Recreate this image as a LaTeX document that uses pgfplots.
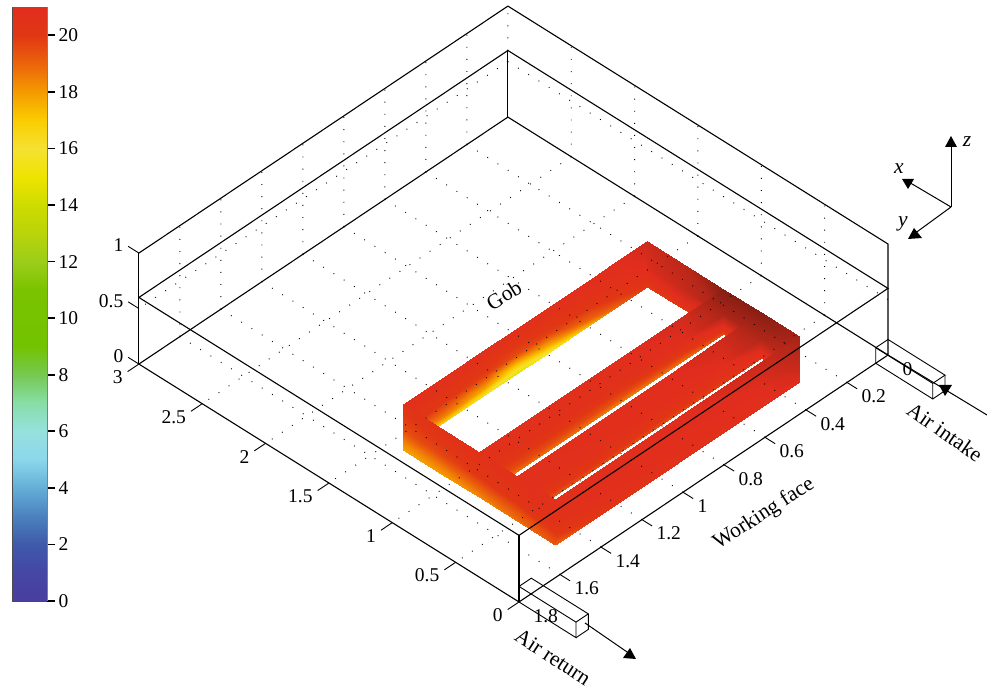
\documentclass[border=0pt]{standalone}
\usepackage{fontspec}
\setmainfont{Liberation Serif}
\usepackage{pgfplots}
\pgfplotsset{compat=1.18}

\pgfplotsset{
  colormap={bar}{
    rgb255=(72,62,160) rgb255=(70,70,165) rgb255=(62,90,170) rgb255=(75,130,190)
    rgb255=(100,175,215) rgb255=(140,215,235) rgb255=(150,225,222) rgb255=(135,222,165)
    rgb255=(118,200,80) rgb255=(115,195,0) rgb255=(118,195,0) rgb255=(122,195,0)
    rgb255=(155,205,25) rgb255=(185,212,10) rgb255=(205,220,0) rgb255=(238,228,0)
    rgb255=(245,225,50) rgb255=(250,205,0) rgb255=(245,155,0) rgb255=(235,100,10)
    rgb255=(225,55,20) rgb255=(225,45,30)
  },
  % same map, two darker steps on top for the shaded far end of the block
  colormap={block}{
    rgb255=(72,62,160) rgb255=(70,70,165) rgb255=(62,90,170) rgb255=(75,130,190)
    rgb255=(100,175,215) rgb255=(140,215,235) rgb255=(150,225,222) rgb255=(135,222,165)
    rgb255=(118,200,80) rgb255=(115,195,0) rgb255=(118,195,0) rgb255=(122,195,0)
    rgb255=(155,205,25) rgb255=(185,212,10) rgb255=(205,220,0) rgb255=(238,228,0)
    rgb255=(245,225,50) rgb255=(250,205,0) rgb255=(245,155,0) rgb255=(235,100,10)
    rgb255=(225,55,20) rgb255=(225,45,30) rgb255=(185,40,25) rgb255=(135,30,20)
  },
  wall/.style={surf,shader=interp,mesh/rows=4,mesh/check=false},
  frame/.style={black,line width=1.1pt,mark=none,forget plot},
}
\newcommand{\lab}{\fontsize{19.5}{22}\selectfont}
\newcommand{\ann}{\fontsize{21.5}{24}\selectfont}

\begin{document}
\begin{tikzpicture}
\useasboundingbox (0,0) rectangle (987pt,690pt);

% colour bar
\begin{axis}[
  at={(12pt,89pt)},anchor=south west,
  width=35pt,height=594pt,scale only axis,
  xmin=0,xmax=1,ymin=0,ymax=21,
  axis y line*=right,axis x line=none,
  xtick=\empty,ytick={0,2,...,20},
  tick align=outside,
  major tick length=8pt,
  tick style={black,line width=1.6pt},
  axis line style={gray,line width=0.6pt},
  yticklabel style={font=\lab,/pgf/number format/assume math mode=true},
  colormap name=bar,point meta min=0,point meta max=21,
  view={0}{90},
]
\addplot3[surf,shader=interp,mesh/rows=8,mesh/check=false,point meta=explicit] coordinates {
  (0,0,0)[0] (1,0,0)[0]
  (0,3,0)[3] (1,3,0)[3]
  (0,6,0)[6] (1,6,0)[6]
  (0,9,0)[9] (1,9,0)[9]
  (0,12,0)[12] (1,12,0)[12]
  (0,15,0)[15] (1,15,0)[15]
  (0,18,0)[18] (1,18,0)[18]
  (0,21,0)[21] (1,21,0)[21]
};
\end{axis}

% gob box
\begin{axis}[
  at={(888pt,335pt)},anchor=origin,
  x={(-205pt,-137.2pt)},y={(-126.7pt,79.3pt)},z={(0pt,111pt)},
  xmin=0,xmax=1.8,ymin=0,ymax=3,zmin=0,zmax=1,
  clip=false,
  axis line style={draw=none},
  xtick={0,0.2,...,1.8},ytick={0,0.5,...,3},ztick={0,0.5,1},
  xticklabels={0,0.2,0.4,0.6,0.8,1,1.2,1.4,1.6,1.8},
  yticklabels={0,0.5,1,1.5,2,2.5,3},
  zticklabels={0,0.5,1},
  xtick pos=left,ytick pos=left,ztick pos=left,
  tick align=outside,major tick length=13pt,
  tick style={draw=none},
  axis on top,
  ticklabel style={font=\lab},
  xticklabel style={anchor=west,xshift=0pt,yshift=-7pt},
  yticklabel style={anchor=east,xshift=-2pt,yshift=-6pt},
  zticklabel style={anchor=east,xshift=-1pt,yshift=1pt},
  colormap name=block,point meta min=0,point meta max=23,
  point meta=explicit,
  unbounded coords=jump,
]
% far long wall
\addplot3[wall] table[meta=c] {
x y z c
1.5 1.4 0 17.5
1.3 1.4 0 17
1.1 1.4 0 16
0.95 1.4 0 14.5
0.8 1.4 0 15.5
0.6 1.4 0 17.5
0.45 1.4 0 19
0.31 1.4 0 20
1.5 1.4 0.06 18.8
1.3 1.4 0.06 18.5
1.1 1.4 0.06 17.8
0.95 1.4 0.06 16.5
0.8 1.4 0.06 17.5
0.6 1.4 0.06 19
0.45 1.4 0.06 19.8
0.31 1.4 0.06 20.5
1.5 1.4 0.18 20.2
1.3 1.4 0.18 20
1.1 1.4 0.18 19.8
0.95 1.4 0.18 19.6
0.8 1.4 0.18 19.8
0.6 1.4 0.18 20.2
0.45 1.4 0.18 20.5
0.31 1.4 0.18 21
1.5 1.4 0.41 20.8
1.3 1.4 0.41 20.8
1.1 1.4 0.41 20.8
0.95 1.4 0.41 20.8
0.8 1.4 0.41 20.8
0.6 1.4 0.41 20.9
0.45 1.4 0.41 21
0.31 1.4 0.41 21.5
};
% far short wall
\addplot3[wall] table[meta=c] {
x y z c
0.31 1.4 0 19.8
0.31 1.1 0 20
0.31 0.8 0 19.5
0.31 0.5 0 20.5
0.31 0.2 0 21
0.31 1.4 0.06 20.6
0.31 1.1 0.06 20.9
0.31 0.8 0.06 20.8
0.31 0.5 0.06 21
0.31 0.2 0.06 21.3
0.31 1.4 0.18 21.2
0.31 1.1 0.18 21.7
0.31 0.8 0.18 22.3
0.31 0.5 0.18 22.2
0.31 0.2 0.18 21.8
0.31 1.4 0.41 21.5
0.31 1.1 0.41 22
0.31 0.8 0.41 23
0.31 0.5 0.41 23
0.31 0.2 0.41 22.4
};
% inner wall
\addplot3[wall] table[meta=c] {
x y z c
1.5 0.8 0 18.8
1.1 0.8 0 18.8
0.8 0.8 0 18.5
0.5 0.8 0 18.8
0.31 0.8 0 19.5
1.5 0.8 0.06 19.6
1.1 0.8 0.06 19.6
0.8 0.8 0.06 19.5
0.5 0.8 0.06 19.8
0.31 0.8 0.06 20.8
1.5 0.8 0.18 20.3
1.1 0.8 0.18 20.5
0.8 0.8 0.18 20.6
0.5 0.8 0.18 21
0.31 0.8 0.18 22.3
1.5 0.8 0.41 20.7
1.1 0.8 0.41 20.8
0.8 0.8 0.41 20.9
0.5 0.8 0.41 21.4
0.31 0.8 0.41 23
};
% inner wall
\addplot3[wall] table[meta=c] {
x y z c
1.5 0.5 0 19.2
1.1 0.5 0 19.5
0.8 0.5 0 19.5
0.5 0.5 0 19.8
0.31 0.5 0 20.5
1.5 0.5 0.06 20
1.1 0.5 0.06 20.2
0.8 0.5 0.06 20.2
0.5 0.5 0.06 20.5
0.31 0.5 0.06 21
1.5 0.5 0.18 20.5
1.1 0.5 0.18 20.7
0.8 0.5 0.18 20.8
0.5 0.5 0.18 21
0.31 0.5 0.18 22.2
1.5 0.5 0.41 20.7
1.1 0.5 0.41 20.9
0.8 0.5 0.41 21
0.5 0.5 0.41 21.5
0.31 0.5 0.41 23
};
% near long wall
\addplot3[wall] table[meta=c] {
x y z c
1.5 0.2 0 19
1.3 0.2 0 20
0.9 0.2 0 20.5
0.5 0.2 0 20.7
0.31 0.2 0 21
1.5 0.2 0.06 19.8
1.3 0.2 0.06 20.4
0.9 0.2 0.06 20.7
0.5 0.2 0.06 20.9
0.31 0.2 0.06 21.3
1.5 0.2 0.18 20.4
1.3 0.2 0.18 20.8
0.9 0.2 0.18 20.9
0.5 0.2 0.18 21
0.31 0.2 0.18 21.8
1.5 0.2 0.41 20.7
1.3 0.2 0.41 20.9
0.9 0.2 0.41 21
0.5 0.2 0.41 21.6
0.31 0.2 0.41 22.4
};
% near short wall
\addplot3[wall] table[meta=c] {
x y z c
1.5 1.4 0 17.8
1.5 1.1 0 18
1.5 0.8 0 18.3
1.5 0.5 0 18.8
1.5 0.2 0 19.3
1.5 1.4 0.06 18.3
1.5 1.1 0.06 18.5
1.5 0.8 0.06 18.8
1.5 0.5 0.06 19.2
1.5 0.2 0.06 19.7
1.5 1.4 0.18 19.5
1.5 1.1 0.18 19.7
1.5 0.8 0.18 20
1.5 0.5 0.18 20.2
1.5 0.2 0.18 20.5
1.5 1.4 0.41 20.3
1.5 1.1 0.41 20.5
1.5 0.8 0.41 20.6
1.5 0.5 0.41 20.7
1.5 0.2 0.41 20.7
};
% dotted grid, floor and the two back walls
\addplot3[black,line width=0.9pt,dash pattern=on 0.9pt off 11.2pt,mark=none,forget plot] coordinates {
(0.2,0,0) (0.2,3,0) (nan,nan,nan) (0.4,0,0) (0.4,3,0) (nan,nan,nan)
(0.6,0,0) (0.6,3,0) (nan,nan,nan) (0.8,0,0) (0.8,3,0) (nan,nan,nan)
(1,0,0) (1,3,0) (nan,nan,nan) (1.2,0,0) (1.2,3,0) (nan,nan,nan)
(1.4,0,0) (1.4,3,0) (nan,nan,nan) (1.6,0,0) (1.6,3,0) (nan,nan,nan)
(0,0.5,0) (1.8,0.5,0) (nan,nan,nan) (0,1,0) (1.8,1,0) (nan,nan,nan)
(0,1.5,0) (1.8,1.5,0) (nan,nan,nan) (0,2,0) (1.8,2,0) (nan,nan,nan)
(0,2.5,0) (1.8,2.5,0) (nan,nan,nan)
(0.2,3,0) (0.2,3,1) (nan,nan,nan) (0.4,3,0) (0.4,3,1) (nan,nan,nan)
(0.6,3,0) (0.6,3,1) (nan,nan,nan) (0.8,3,0) (0.8,3,1) (nan,nan,nan)
(1,3,0) (1,3,1) (nan,nan,nan) (1.2,3,0) (1.2,3,1) (nan,nan,nan)
(1.4,3,0) (1.4,3,1) (nan,nan,nan) (1.6,3,0) (1.6,3,1) (nan,nan,nan)
(0,3,0.5) (1.8,3,0.5) (nan,nan,nan)
(0,0.5,0) (0,0.5,1) (nan,nan,nan) (0,1,0) (0,1,1) (nan,nan,nan)
(0,1.5,0) (0,1.5,1) (nan,nan,nan) (0,2,0) (0,2,1) (nan,nan,nan)
(0,2.5,0) (0,2.5,1) (nan,nan,nan) (0,3,0.6) (0,3,1) (nan,nan,nan)
(0,0,0.5) (0,3,0.5)
};
% tick marks, each along the neighbouring axis
\addplot3[frame,line width=0.9pt] coordinates {
(0.2,0,0) (0.2,-0.08,0) (nan,nan,nan) (0.4,0,0) (0.4,-0.08,0) (nan,nan,nan)
(0.6,0,0) (0.6,-0.08,0) (nan,nan,nan) (0.8,0,0) (0.8,-0.08,0) (nan,nan,nan)
(1,0,0) (1,-0.08,0) (nan,nan,nan) (1.2,0,0) (1.2,-0.08,0) (nan,nan,nan)
(1.4,0,0) (1.4,-0.08,0) (nan,nan,nan) (1.6,0,0) (1.6,-0.08,0) (nan,nan,nan)
(1.8,0,0) (1.855,0,0) (nan,nan,nan) (1.8,0.5,0) (1.855,0.5,0) (nan,nan,nan)
(1.8,1,0) (1.855,1,0) (nan,nan,nan) (1.8,1.5,0) (1.855,1.5,0) (nan,nan,nan)
(1.8,2,0) (1.855,2,0) (nan,nan,nan) (1.8,2.5,0) (1.855,2.5,0) (nan,nan,nan)
(1.8,3,0) (1.855,3,0) (nan,nan,nan)
(1.8,3,0) (1.8,3.085,0) (nan,nan,nan) (1.8,3,0.5) (1.8,3.085,0.5) (nan,nan,nan)
(1.8,3,1) (1.8,3.085,1)
};
% floor and walls of the box
\addplot3[frame] coordinates {(1.8,3,1) (0,3,1)};
\addplot3[frame] coordinates {(0,3,1) (0,0,1) (0,0,0) (1.8,0,0) (1.8,3,0) (0,3,0) (0,0,0)};
\addplot3[frame] coordinates {(1.8,3,0) (1.8,3,1)};
\addplot3[frame] coordinates {(0,3,0) (0,3,0.6)};
\addplot3[frame] coordinates {(1.8,0,0) (1.8,0,0.6)};
% roof plane
\addplot3[frame] coordinates {(1.8,3,0.6) (0,3,0.6) (0,0,0.6) (1.8,0,0.6) (1.8,3,0.6)};
% air return duct
\addplot3[frame,line width=0.9pt] coordinates {(1.8,0,0.14) (1.74,0,0.14) (1.74,-0.45,0.14) (1.8,-0.45,0.14) (1.8,0,0.14)};
\addplot3[frame,line width=0.9pt] coordinates {(1.8,0,0) (1.8,-0.45,0) (1.8,-0.45,0.14)};
\addplot3[frame,line width=0.9pt] coordinates {(1.8,-0.45,0) (1.74,-0.45,0) (1.74,-0.45,0.14)};
% air intake duct
\addplot3[frame,line width=0.9pt] coordinates {(0.06,0,0.14) (0,0,0.14) (0,-0.45,0.14) (0.06,-0.45,0.14) (0.06,0,0.14) (0.06,0,0) (0.06,-0.45,0) (0.06,-0.45,0.14)};
\addplot3[frame,line width=0.9pt] coordinates {(0.06,-0.45,0) (0,-0.45,0) (0,-0.45,0.14)};
\end{axis}

% annotations, in image pixels
\begin{scope}[x=1pt,y=-1pt,shift={(0pt,690pt)},font=\lab]
\draw[black!70!white,line width=0.7pt] (12,7) -- (12,601) -- (47,601);
\draw[line width=1pt] (888,355) -- (987,415);
\fill (939,385) -- (952,385) -- (945,396) -- cycle;
\draw[line width=1pt] (585,623) -- (630,654);
\fill (623,658) -- (630,648) -- (636,659) -- cycle;
\draw[line width=1pt] (951,207) -- (951,145);
\draw[line width=1pt] (951,207) -- (907,181);
\draw[line width=1pt] (951,207) -- (914,234);
\fill (945,147) -- (957,147) -- (951,136) -- cycle;
\fill (902,179) -- (914,179) -- (908,189) -- cycle;
\fill (908,239) -- (922,238) -- (914,228) -- cycle;
\node at (967,142) {\ann\itshape z};
\node at (899,169) {\ann\itshape x};
\node at (903,224) {\ann\itshape y};
\node[rotate=32] at (504,295) {\ann Gob};
\node[rotate=33] at (764,514) {\ann Working face};
\node[rotate=-35] at (945,432) {\ann Air intake};
\node[rotate=-33] at (553,657) {\ann Air return};
\end{scope}
\end{tikzpicture}
\end{document}
